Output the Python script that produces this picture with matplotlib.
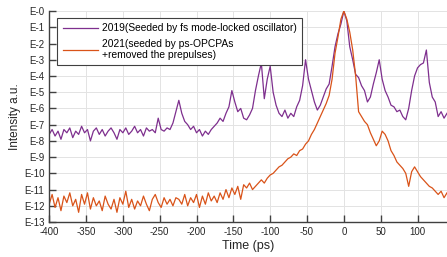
import numpy as np
import matplotlib.pyplot as plt
from matplotlib.ticker import FixedLocator, NullLocator

plt.rcParams['font.family'] = ['Liberation Sans', 'DejaVu Sans']
plt.rcParams['axes.unicode_minus'] = False

# time axis (ps), one sample every 4 ps
time_ps = np.arange(-400, 141, 4)

decades_2019 = [
    7.6, 7.3, 7.7, 7.4, 7.9, 7.3, 7.5, 7.2, 7.8, 7.4, 7.6, 7.1, 7.5, 7.3, 8.0, 7.4,
    7.2, 7.6, 7.3, 7.7, 7.4, 7.2, 7.5, 7.9, 7.3, 7.5, 7.2, 7.6, 7.4, 7.1, 7.5, 7.3,
    7.7, 7.2, 7.4, 7.3, 7.5, 6.6, 7.3, 7.4, 7.2, 7.3, 6.9, 6.2, 5.5, 6.3, 6.8, 7.0,
    7.3, 7.1, 7.5, 7.3, 7.7, 7.4, 7.6, 7.3, 7.1, 6.9, 6.6, 6.8, 6.3, 5.9, 4.9, 5.6,
    6.2, 6.0, 6.6, 6.7, 6.4, 6.0, 4.9, 4.0, 3.2, 5.4, 4.2, 3.4, 5.0, 5.8, 6.3, 6.5,
    6.1, 6.6, 6.3, 6.5, 5.9, 5.5, 4.6, 3.0, 4.2, 4.9, 5.6, 6.1, 5.8, 5.3, 4.8, 4.5,
    3.4, 2.2, 1.4, 0.8, 0.0, 0.6, 2.2, 3.0, 3.9, 4.1, 4.6, 4.9, 5.6, 5.3, 4.5, 3.8,
    3.0, 4.2, 4.9, 5.3, 5.8, 5.9, 6.2, 6.1, 6.5, 6.7, 6.0, 4.9, 4.0, 3.5, 3.3, 3.2,
    2.4, 4.4, 5.3, 5.6, 6.5, 6.2, 6.6, 6.3,
]
decades_2021 = [
    11.9, 11.3, 12.1, 11.5, 12.3, 11.4, 11.8, 11.2, 12.0, 11.6, 12.4, 11.3, 11.9, 11.2, 12.2, 11.5,
    12.0, 11.7, 12.3, 11.4, 11.9, 12.2, 11.6, 12.4, 11.5, 11.9, 11.1, 12.1, 11.6, 12.2, 11.7, 12.0,
    11.4, 11.9, 12.3, 11.6, 11.3, 11.8, 12.1, 11.5, 11.9, 11.6, 12.0, 11.5, 11.6, 11.9, 11.3, 12.0,
    11.5, 11.8, 11.3, 12.1, 11.4, 11.9, 11.2, 11.7, 11.4, 11.8, 11.2, 11.6, 11.0, 11.5, 10.9, 11.3,
    10.8, 11.6, 10.7, 10.9, 10.6, 11.0, 10.8, 10.6, 10.4, 10.6, 10.3, 10.1, 10.0, 9.8, 9.6, 9.5,
    9.3, 9.1, 9.0, 8.8, 8.9, 8.6, 8.5, 8.2, 8.0, 7.6, 7.3, 6.9, 6.5, 6.1, 5.7, 5.2,
    4.2, 2.6, 1.6, 0.5, 0.0, 0.5, 1.3, 2.4, 4.0, 6.2, 6.5, 6.8, 7.0, 7.5, 7.9, 8.3,
    8.0, 7.4, 7.6, 8.0, 8.6, 8.9, 9.3, 9.5, 9.7, 10.0, 10.8, 9.9, 9.6, 9.9, 10.2, 10.4,
    10.6, 10.8, 10.9, 11.1, 11.3, 11.1, 11.5, 11.2,
]

label_2019 = '2019(Seeded by fs mode-locked oscillator)'
label_2021 = '2021(seeded by ps-OPCPAs\n+removed the prepulses)'
x_ticks = list(range(-400, 101, 50))
y_decades = list(range(0, 14))

intensity_2019 = 10.0 ** -np.array(decades_2019)
intensity_2021 = 10.0 ** -np.array(decades_2021)

fig = plt.figure(figsize=(4.47, 2.57), dpi=100)
ax = fig.add_axes([0.11, 0.136, 0.89, 0.821])

ax.plot(time_ps, intensity_2019, color='#7E2F8E', lw=0.9, label=label_2019)
ax.plot(time_ps, intensity_2021, color='#D95319', lw=0.9, label=label_2021)

ax.set_yscale('log')
ax.set_xlim(-400, 140)
ax.set_ylim(1e-13, 1)
ax.set_xticks(x_ticks)
ax.yaxis.set_major_locator(FixedLocator([10.0 ** -k for k in y_decades]))
ax.yaxis.set_minor_locator(NullLocator())
ax.set_yticklabels([f'E-{k}' for k in y_decades])

ax.grid(True, color='#e3e3e3', lw=0.7)
ax.set_axisbelow(True)
for side in ['top', 'right']:
    ax.spines[side].set_visible(False)
for side in ['left', 'bottom']:
    ax.spines[side].set_color('#404040')
    ax.spines[side].set_linewidth(1.0)
ax.tick_params(direction='in', length=5, width=1, color='#404040',
               labelsize=7, labelcolor='#262626')

ax.set_xlabel('Time (ps)', fontsize=9, color='#262626', labelpad=2)
ax.set_ylabel('Intensity a.u.', fontsize=8.5, color='#262626', labelpad=2)

leg = ax.legend(loc='upper left', bbox_to_anchor=(0.008, 0.99), fontsize=7.4,
                frameon=True, fancybox=False, framealpha=1, edgecolor='#404040',
                handlelength=3.4, borderpad=0.5, labelspacing=0.5, handletextpad=0.4)
leg.get_frame().set_linewidth(0.8)

fig.savefig('out.png', dpi=100)
